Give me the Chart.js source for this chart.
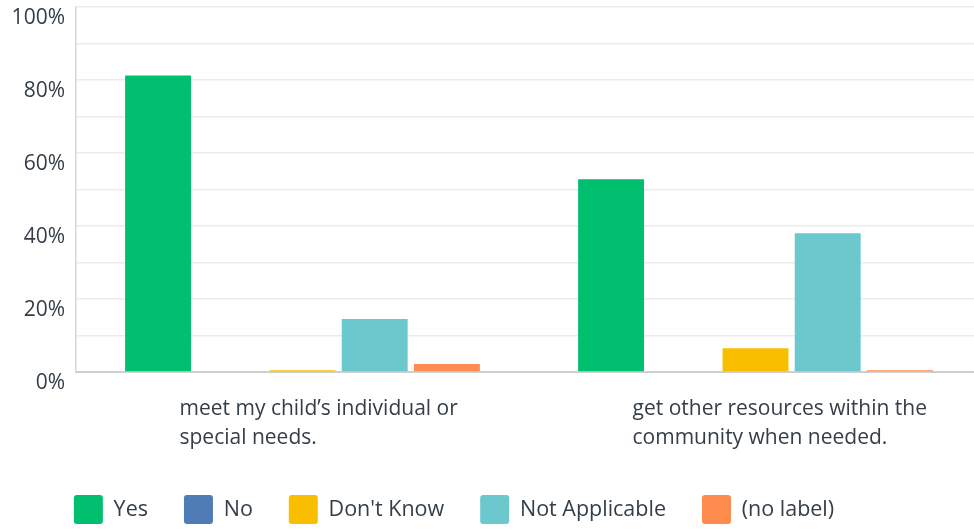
<!DOCTYPE html>
<html>
<head>
<meta charset="utf-8">
<script src="https://cdn.jsdelivr.net/npm/chart.js@4"></script>
<style>
  html, body { margin: 0; padding: 0; background: #fff; overflow: hidden; width: 974px; height: 529px; }
  #wrap { width: 982px; height: 534px; }
</style>
</head>
<body>
<div id="wrap"><canvas id="c" width="982" height="534"></canvas></div>
<script>
const categories = [
  ["meet my child\u2019s individual or", "special needs."],
  ["get other resources within the", "community when needed."]
];
const seriesNames = ["Yes", "No", "Don't Know", "Not Applicable", "(no label)"];
const yesValues = [81.2, 52.8];
const noValues = [0, 0];
const dontKnowValues = [0.5, 6.5];
const notApplicableValues = [14.5, 38.0];
const noLabelValues = [2.2, 0.5];
const seriesColors = ["#00bf6f", "#507cb6", "#f9be00", "#6bc8cd", "#ff8b4f"];
const yTickStep = 10;
const yLabelEvery = 20;

const seriesValues = [yesValues, noValues, dontKnowValues, notApplicableValues, noLabelValues];
const textColor = "#333e48";
const FONT = "'Open Sans', sans-serif";
const LEGEND_SHIFT = -37;

const legendShift = {
  id: 'legendShift',
  afterLayout(chart) {
    if (chart.legend) {
      chart.legend.left += LEGEND_SHIFT;
      chart.legend.right += LEGEND_SHIFT;
    }
  }
};

new Chart(document.getElementById('c'), {
  type: 'bar',
  data: {
    labels: categories,
    datasets: seriesNames.map((name, i) => ({
      label: name,
      data: seriesValues[i],
      backgroundColor: seriesColors[i],
      borderWidth: 0,
      barPercentage: 0.913,
      categoryPercentage: 0.797
    }))
  },
  options: {
    responsive: false,
    animation: false,
    layout: { padding: 0 },
    scales: {
      x: {
        grid: { display: false, drawTicks: false },
        border: { display: true, color: '#cfcfcf', width: 2 },
        ticks: {
          color: textColor,
          font: { family: FONT, size: 21, lineHeight: 1.4 },
          align: 'start',
          labelOffset: -123,
          padding: 22,
          maxRotation: 0,
          autoSkip: false
        },
        afterFit(scale) { scale.height = 87; scale.paddingLeft = 0; scale.paddingRight = 0; }
      },
      y: {
        min: 0,
        max: 100,
        grid: { color: '#ebebeb', lineWidth: 1.5, drawTicks: false },
        border: { display: true, color: '#d6d6d6', width: 1.5 },
        ticks: {
          stepSize: yTickStep,
          color: textColor,
          font: { family: FONT, size: 21, lineHeight: 0.7 },
          padding: 11,
          labelOffset: 11,
          callback: (v) => (v % yLabelEvery === 0 ? v + '%' : '')
        },
        afterFit(scale) { scale.width = 76; scale.paddingTop = 7; scale.paddingBottom = 0; }
      }
    },
    plugins: {
      tooltip: { enabled: false },
      legend: {
        position: 'bottom',
        align: 'center',
        labels: {
          color: textColor,
          font: { family: FONT, size: 21.5 },
          boxWidth: 29,
          boxHeight: 29,
          useBorderRadius: true,
          borderRadius: 3,
          padding: 36
        }
      }
    }
  },
  plugins: [legendShift]
});
</script>
</body>
</html>
